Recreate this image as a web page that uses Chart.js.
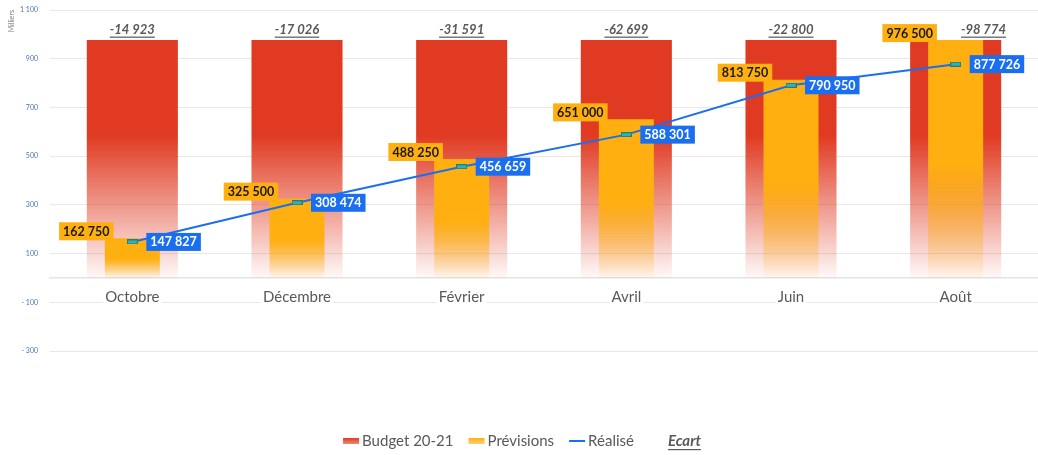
<!DOCTYPE html>
<html>
<head>
<meta charset="utf-8">
<script src="https://cdn.jsdelivr.net/npm/chart.js@4.4.1/dist/chart.umd.min.js"></script>
<style>
  html, body { margin: 0; padding: 0; background: #fff; }
  #wrap { width: 1038px; height: 455px; }
</style>
</head>
<body>
<div id="wrap"><canvas id="chart"></canvas></div>
<script>
// data
const months = ['Octobre', 'Décembre', 'Février', 'Avril', 'Juin', 'Août'];
const budget = [976500, 976500, 976500, 976500, 976500, 976500];
const previsions = [162750, 325500, 488250, 651000, 813750, 976500];
const realise = [147827, 308474, 456659, 588301, 790950, 877726];
const ecart = [-14923, -17026, -31591, -62699, -22800, -98774];
const yMin = -300000, yMax = 1100000, yStep = 200000;

const RED = [224, 58, 34];
const ORANGE = [255, 176, 16];
const BLUE = '#1a6ff0';
const FONT = 'Lato, "Open Sans", sans-serif';

const rgba = (c, a) => `rgba(${c[0]},${c[1]},${c[2]},${a})`;

function fmt(v) {
  const s = Math.abs(Math.round(v)).toString().replace(/\B(?=(\d{3})+(?!\d))/g, ' ');
  return (v < 0 ? '-' : '') + s;
}

// vertical fade, solid at the top of each bar
function fade(col, solid) {
  return (c) => {
    const y = c.chart.scales.y;
    if (!y || c.raw == null) return rgba(col, 1);
    const top = y.getPixelForValue(c.raw), base = y.getPixelForValue(0);
    if (!isFinite(top) || !isFinite(base) || top === base) return rgba(col, 1);
    const g = c.chart.ctx.createLinearGradient(0, top, 0, base);
    g.addColorStop(0, rgba(col, 1));
    g.addColorStop(solid, rgba(col, 1));
    g.addColorStop(1, rgba(col, 0.03));
    return g;
  };
}

// small teal dash marker
const marker = document.createElement('canvas');
marker.width = 11; marker.height = 5;
(() => {
  const m = marker.getContext('2d');
  m.fillStyle = '#1f7f86';
  m.fillRect(0, 0, 11, 5);
  m.fillStyle = '#36b0a8';
  m.fillRect(1, 1, 9, 3);
})();

const valueLabels = {
  id: 'valueLabels',
  afterDatasetsDraw(chart) {
    const {ctx} = chart;
    const mb = chart.getDatasetMeta(0), mp = chart.getDatasetMeta(1), mr = chart.getDatasetMeta(2);
    const ec = chart.data.datasets[3].data;
    ctx.save();
    ctx.textBaseline = 'middle';

    // orange boxes first so ecart labels can dodge them
    ctx.font = 'bold 12.5px ' + FONT;
    const boxes = [];
    mp.data.forEach((bar, i) => {
      const t = fmt(previsions[i]);
      const w = ctx.measureText(t).width + 8;
      const cx = bar.x - 46, cy = bar.y - 7;
      boxes.push({l: cx - w / 2, r: cx + w / 2, t: cy - 9, b: cy + 9});
      ctx.fillStyle = rgba(ORANGE, 1);
      ctx.fillRect(cx - w / 2, cy - 9, w, 18);
      ctx.fillStyle = '#1a1a1a';
      ctx.textAlign = 'center';
      ctx.fillText(t, cx, cy + 0.5);
    });

    ctx.font = 'italic bold 13px ' + FONT;
    ctx.fillStyle = '#595959';
    ctx.textAlign = 'center';
    mb.data.forEach((bar, i) => {
      const t = fmt(ec[i]);
      const w = ctx.measureText(t).width;
      let x = bar.x;
      const ty = bar.y - 10;
      const bx = boxes[i];
      if (x - w / 2 < bx.r && ty + 8 > bx.t && ty - 8 < bx.b) x = bx.r + 24 + w / 2;
      ctx.fillText(t, x, ty);
      ctx.fillRect(x - w / 2, bar.y - 3.5, w, 1.2);
    });

    ctx.font = 'bold 12.5px ' + FONT;
    mr.data.forEach((pt, i) => {
      const t = fmt(realise[i]);
      const w = ctx.measureText(t).width + 8;
      const x0 = pt.x + 14;
      ctx.fillStyle = BLUE;
      ctx.fillRect(x0, pt.y - 9, w, 18);
      ctx.fillStyle = '#fff';
      ctx.textAlign = 'left';
      ctx.fillText(t, x0 + 4, pt.y + 0.5);
    });
    ctx.restore();
  }
};

const bottomLegend = {
  id: 'bottomLegend',
  afterDraw(chart) {
    const {ctx} = chart;
    const sets = chart.data.datasets;
    const y = 441;
    ctx.save();
    ctx.textBaseline = 'middle';
    const fonts = sets.map((d, i) => (i === 3 ? 'italic bold ' : '') + '15px ' + FONT);
    const widths = sets.map((d, i) => { ctx.font = fonts[i]; return ctx.measureText(d.label).width; });
    const total = widths.reduce((a, w) => a + 16 + 3 + w, 0) + 15 * (sets.length - 1);
    let x = chart.width / 2 + 3 - total / 2;
    sets.forEach((d, i) => {
      if (i === 0 || i === 1) {
        const col = i === 0 ? RED : ORANGE;
        const g = ctx.createLinearGradient(0, y - 3, 0, y + 3);
        g.addColorStop(0, rgba(col, 1));
        g.addColorStop(1, rgba(col, 0.6));
        ctx.fillStyle = g;
        ctx.fillRect(x, y - 3, 16, 6);
      } else if (i === 2) {
        ctx.fillStyle = BLUE;
        ctx.fillRect(x, y - 1, 16, 2);
      }
      x += 19;
      ctx.font = fonts[i];
      ctx.fillStyle = '#595959';
      ctx.textAlign = 'left';
      ctx.fillText(d.label, x, y);
      if (i === 3) ctx.fillRect(x, y + 8, widths[i], 1.2);
      x += widths[i] + 15;
    });
    ctx.restore();
  }
};

new Chart(document.getElementById('chart'), {
  data: {
    labels: months,
    datasets: [
      {
        type: 'bar', label: 'Budget 20-21', data: budget, order: 3,
        backgroundColor: fade(RED, 0.4), grouped: false,
        categoryPercentage: 1, barPercentage: 0.553
      },
      {
        type: 'bar', label: 'Prévisions', data: previsions, order: 2,
        backgroundColor: fade(ORANGE, 0.52), grouped: false,
        categoryPercentage: 1, barPercentage: 0.334
      },
      {
        type: 'line', label: 'Réalisé', data: realise, order: 1,
        borderColor: BLUE, borderWidth: 2, tension: 0,
        pointStyle: marker, pointRadius: 5
      },
      {
        type: 'line', label: 'Ecart', data: ecart, order: 0,
        showLine: false, pointRadius: 0,
        borderColor: 'rgba(0,0,0,0)', backgroundColor: 'rgba(0,0,0,0)'
      }
    ]
  },
  options: {
    responsive: true,
    maintainAspectRatio: false,
    animation: false,
    layout: { autoPadding: false, padding: { top: 10, right: -8, bottom: 104, left: 0 } },
    plugins: {
      legend: { display: false },
      tooltip: { enabled: false }
    },
    scales: {
      x: {
        position: { y: 0 },
        afterFit: (s) => { s.paddingLeft = 0; s.paddingRight = 0; },
        grid: { display: false, drawTicks: true, tickLength: 10 },
        border: { color: '#e3e3e3', width: 1.5 },
        ticks: {
          color: '#595959', padding: 0,
          font: { family: FONT, size: 15 },
          showLabelBackdrop: true, backdropColor: '#fff',
          backdropPadding: { left: 2, right: 2, top: 0, bottom: 0 }
        }
      },
      y: {
        min: yMin, max: yMax,
        afterFit: (s) => { s.width = 50; },
        grid: { color: '#e8e8e8', drawTicks: true, tickLength: 12, tickColor: 'rgba(0,0,0,0)' },
        border: { display: false },
        ticks: {
          stepSize: yStep, padding: 0, color: '#4f72b8',
          font: { family: FONT, size: 7 },
          callback: (v) => {
            const k = v / 1000;
            return (k < 0 ? '- ' : '') + fmt(Math.abs(k));
          }
        },
        title: {
          display: true, text: 'Milliers', align: 'end',
          color: '#7f7f7f', font: { family: FONT, size: 7 },
          padding: { top: 8, bottom: 0 }
        }
      }
    }
  },
  plugins: [valueLabels, bottomLegend]
});
</script>
</body>
</html>
